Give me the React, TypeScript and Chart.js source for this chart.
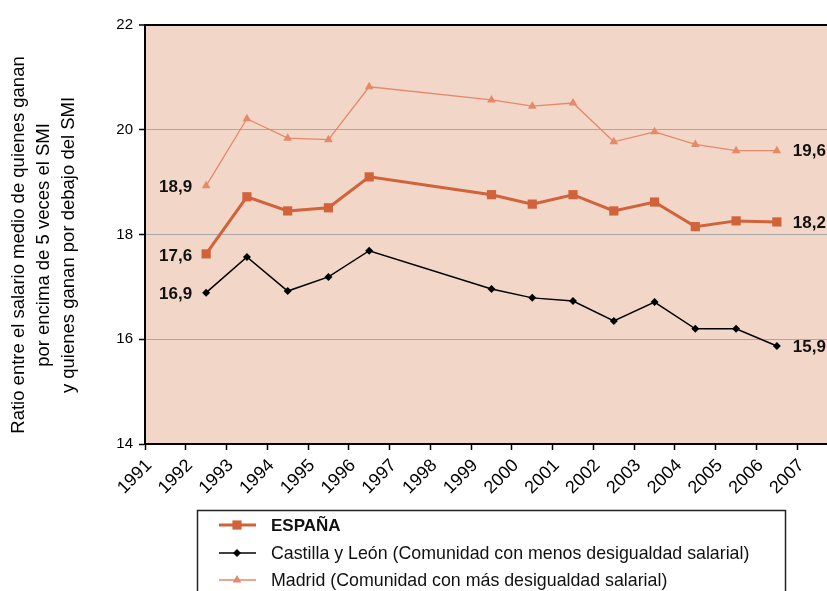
import React, { useEffect, useRef } from 'react';
import { Chart, registerables } from 'chart.js';

Chart.register(...registerables);

// ---- Data ----
const years = [1992, 1993, 1994, 1995, 1996, 1999, 2000, 2001, 2002, 2003, 2004, 2005, 2006];
const espana = [17.63, 18.72, 18.45, 18.51, 19.1, 18.76, 18.58, 18.76, 18.45, 18.62, 18.15, 18.26, 18.24];
const castilla = [16.89, 17.57, 16.92, 17.19, 17.69, 16.96, 16.79, 16.73, 16.35, 16.71, 16.2, 16.2, 15.87];
const madrid = [18.93, 20.21, 19.84, 19.81, 20.82, 20.57, 20.45, 20.51, 19.77, 19.96, 19.72, 19.6, 19.6];

const axisYears = [1991, 1992, 1993, 1994, 1995, 1996, 1997, 1998, 1999, 2000, 2001, 2002, 2003, 2004, 2005, 2006, 2007];
const yTicks = [14, 16, 18, 20, 22];

const seriesNames = [
  'ESPAÑA',
  'Castilla y León (Comunidad con menos desigualdad salarial)',
  'Madrid (Comunidad con más desigualdad salarial)',
];
const yTitle = [
  'Ratio entre el salario medio de quienes ganan',
  'por encima de 5 veces el SMI',
  'y quienes ganan por debajo del SMI',
];

const C_ESP = '#D0633A';
const C_CAS = '#000000';
const C_MAD = '#E4896A';
const C_BG = '#F2D6C8';
const FONT = "'Liberation Sans', Arial, Helvetica, sans-serif";

const toPoints = (vals: number[]) => years.map((yr, i) => ({ x: yr + 0.5, y: vals[i] }));
const fmt = (v: number) => v.toFixed(1).replace('.', ',');

const bgPlugin = {
  id: 'bgPlugin',
  beforeDraw(chart: any) {
    const { ctx, chartArea } = chart;
    ctx.save();
    ctx.fillStyle = C_BG;
    ctx.fillRect(chartArea.left, chartArea.top, chartArea.right - chartArea.left, chartArea.bottom - chartArea.top);
    ctx.restore();
  },
};

const yTitlePlugin = {
  id: 'yTitle',
  afterDraw(chart: any) {
    const { ctx } = chart;
    ctx.save();
    ctx.fillStyle = '#000';
    ctx.font = `18.5px ${FONT}`;
    ctx.textAlign = 'center';
    ctx.textBaseline = 'middle';
    const cy = 245;
    yTitle.forEach((line, i) => {
      ctx.save();
      ctx.translate(19 + i * 25, cy);
      ctx.rotate(-Math.PI / 2);
      ctx.fillText(line, 0, 0);
      ctx.restore();
    });
    ctx.restore();
  },
};

const endLabelsPlugin = {
  id: 'endLabels',
  afterDatasetsDraw(chart: any) {
    const { ctx } = chart;
    ctx.save();
    ctx.font = `bold 17px ${FONT}`;
    ctx.fillStyle = '#111';
    ctx.textBaseline = 'middle';
    chart.data.datasets.forEach((ds: any, i: number) => {
      const meta = chart.getDatasetMeta(i);
      const first = meta.data[0];
      const last = meta.data[meta.data.length - 1];
      ctx.textAlign = 'right';
      ctx.fillText(fmt(ds.data[0].y), first.x - 14, first.y + 2);
      ctx.textAlign = 'left';
      ctx.fillText(fmt(ds.data[ds.data.length - 1].y), last.x + 16, last.y + 1);
    });
    ctx.restore();
  },
};

function drawMarker(ctx: CanvasRenderingContext2D, style: string, x: number, y: number, r: number, color: string) {
  ctx.fillStyle = color;
  ctx.beginPath();
  if (style === 'rect') {
    const s = r * Math.SQRT1_2;
    ctx.rect(x - s, y - s, 2 * s, 2 * s);
  } else if (style === 'rectRot') {
    ctx.moveTo(x - r, y);
    ctx.lineTo(x, y - r);
    ctx.lineTo(x + r, y);
    ctx.lineTo(x, y + r);
    ctx.closePath();
  } else {
    ctx.moveTo(x, y - r);
    ctx.lineTo(x + r * 0.866, y + r * 0.5);
    ctx.lineTo(x - r * 0.866, y + r * 0.5);
    ctx.closePath();
  }
  ctx.fill();
}

const legendPlugin = {
  id: 'boxLegend',
  afterDraw(chart: any) {
    const { ctx } = chart;
    ctx.save();
    ctx.strokeStyle = '#222';
    ctx.lineWidth = 1.5;
    ctx.strokeRect(197.5, 510.5, 588, 120);
    const rowY = [525, 553, 580];
    chart.data.datasets.forEach((ds: any, i: number) => {
      const y = rowY[i];
      ctx.strokeStyle = ds.borderColor;
      ctx.lineWidth = ds.borderWidth;
      ctx.beginPath();
      ctx.moveTo(219, y);
      ctx.lineTo(256, y);
      ctx.stroke();
      drawMarker(ctx, ds.pointStyle, 237, y, ds.pointRadius, ds.pointBackgroundColor);
      ctx.fillStyle = '#111';
      ctx.textAlign = 'left';
      ctx.textBaseline = 'middle';
      ctx.font = i === 0 ? `bold 17px ${FONT}` : `17.8px ${FONT}`;
      ctx.fillText(ds.label, 271, y + 1);
    });
    ctx.restore();
  },
};

export default function App() {
  const ref = useRef<HTMLCanvasElement | null>(null);

  useEffect(() => {
    if (!ref.current) return;
    const chart = new Chart(ref.current, {
      type: 'line',
      data: {
        datasets: [
          {
            label: seriesNames[0],
            data: toPoints(espana),
            borderColor: C_ESP,
            backgroundColor: C_ESP,
            borderWidth: 3,
            pointStyle: 'rect',
            pointRadius: 6.5,
            pointBackgroundColor: C_ESP,
            pointBorderColor: C_ESP,
            pointBorderWidth: 0,
            tension: 0,
          },
          {
            label: seriesNames[1],
            data: toPoints(castilla),
            borderColor: C_CAS,
            backgroundColor: C_CAS,
            borderWidth: 1.5,
            pointStyle: 'rectRot',
            pointRadius: 4,
            pointBackgroundColor: C_CAS,
            pointBorderColor: C_CAS,
            pointBorderWidth: 0,
            tension: 0,
          },
          {
            label: seriesNames[2],
            data: toPoints(madrid),
            borderColor: C_MAD,
            backgroundColor: C_MAD,
            borderWidth: 1.3,
            pointStyle: 'triangle',
            pointRadius: 5,
            pointBackgroundColor: C_MAD,
            pointBorderColor: C_MAD,
            pointBorderWidth: 0,
            tension: 0,
          },
        ] as any,
      },
      options: {
        animation: false,
        responsive: false,
        layout: { padding: { top: 25, right: 32, left: 0, bottom: 0 } },
        plugins: {
          legend: { display: false },
          tooltip: { enabled: false },
        },
        scales: {
          x: {
            type: 'linear',
            min: 1991,
            max: 2008,
            afterBuildTicks: (s: any) => {
              s.ticks = axisYears.map((v) => ({ value: v }));
            },
            afterFit: (s: any) => {
              s.height = 147;
            },
            ticks: {
              autoSkip: false,
              maxRotation: 45,
              minRotation: 45,
              padding: 5,
              labelOffset: 4,
              color: '#000',
              font: { family: FONT, size: 18 },
              callback: (v: any) => String(v),
            },
            grid: {
              drawOnChartArea: false,
              drawTicks: true,
              tickLength: 6,
              tickColor: '#000',
              tickWidth: 1.5,
            },
            border: { color: '#000', width: 2 },
          },
          y: {
            type: 'linear',
            min: 14,
            max: 22,
            afterBuildTicks: (s: any) => {
              s.ticks = yTicks.map((v) => ({ value: v }));
            },
            afterFit: (s: any) => {
              s.width = 145;
            },
            ticks: {
              padding: 6,
              color: '#000',
              font: { family: FONT, size: 15 },
              callback: (v: any) => String(v),
            },
            grid: {
              color: (c: any) => (c.tick && (c.tick.value === 22 || c.tick.value === 14) ? '#000' : '#A8A8A8'),
              lineWidth: (c: any) => (c.tick && c.tick.value === 22 ? 2 : 1),
              drawTicks: true,
              tickLength: 6,
              tickColor: '#000',
              tickWidth: 1.5,
            },
            border: { color: '#000', width: 2 },
            title: { display: false },
          },
        },
      } as any,
      plugins: [bgPlugin, endLabelsPlugin, legendPlugin, yTitlePlugin],
    });
    return () => chart.destroy();
  }, []);

  return (
    <div style={{ position: 'fixed', left: 0, top: 0, width: 827, height: 591, overflow: 'hidden', background: '#fff' }}>
      <canvas ref={ref} width={870} height={591} style={{ width: 870, height: 591, display: 'block' }} />
    </div>
  );
}
